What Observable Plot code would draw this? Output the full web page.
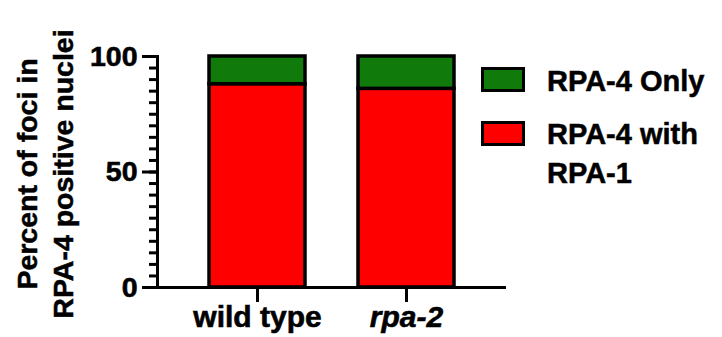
<!DOCTYPE html>
<html><head><meta charset="utf-8">
<script src="https://cdn.jsdelivr.net/npm/d3@7"></script>
<script src="https://cdn.jsdelivr.net/npm/@observablehq/plot@0.6"></script>
<style>
body{margin:0;background:#fff;}
#wrap{position:relative;width:722px;height:337px;font-family:"Liberation Sans",Arial,sans-serif;font-weight:bold;color:#000;}
#wrap svg text{stroke:#000;stroke-width:0.6px;paint-order:stroke;}
.ytitle{position:absolute;width:300px;height:70px;left:-106.5px;top:139px;transform:rotate(-90deg);transform-origin:50% 50%;text-align:center;font-size:28.5px;line-height:36px;white-space:nowrap;-webkit-text-stroke:0.5px #000;}
.sw{position:absolute;width:38px;height:19px;border:3px solid #000;}
.lt{position:absolute;font-size:29px;line-height:39px;white-space:nowrap;-webkit-text-stroke:0.5px #000;}
</style></head><body><div id="wrap"></div>
<script>
const categories = ["wild type", "rpa-2"];
const seriesNames = ["RPA-4 Only", "RPA-4 with RPA-1"];
const withRPA1 = [88, 86];
const only = [12, 14];
const yMajorTicks = [0, 50, 100];
const yMinorTicks = d3.range(0, 101, 5);
const seriesColors = ["#107a0b", "#fe0000"];
const yTitleLines = ["Percent of foci in", "RPA-4 positive nuclei"];

const data = categories.flatMap((c, i) => [
  {cat: c, series: seriesNames[1], value: withRPA1[i]},
  {cat: c, series: seriesNames[0], value: only[i]}
]);

const font = '"Liberation Sans", Arial, sans-serif';
const plot = Plot.plot({
  width: 722, height: 337,
  marginLeft: 157, marginRight: 216, marginTop: 56, marginBottom: 50,
  style: {fontFamily: font, fontWeight: "bold", fontSize: "28px", background: "white", color: "black", overflow: "visible"},
  x: {domain: categories, paddingInner: 0.353, paddingOuter: 0.34, label: null},
  y: {domain: [0, 100], label: null},
  color: {domain: seriesNames, range: seriesColors},
  marks: [
    Plot.barY(data, {x: "cat", y: "value", fill: "series", stroke: "black", strokeWidth: 3.5,
      order: [seriesNames[1], seriesNames[0]]}),
    Plot.axisY(yMinorTicks, {tickSize: 8, text: null, strokeWidth: 3, label: null}),
    Plot.axisY(yMajorTicks, {tickSize: 15, tickPadding: 5, strokeWidth: 3, fontSize: 28.5, label: null}),
    Plot.axisX([categories[0]], {tickSize: 15, tickPadding: 3, strokeWidth: 3, fontSize: 30, label: null}),
    Plot.axisX([categories[1]], {tickSize: 15, tickPadding: 3, strokeWidth: 3, fontSize: 30, fontStyle: "italic", label: null}),
    Plot.ruleY([0], {strokeWidth: 3}),
    Plot.frame({anchor: "left", strokeWidth: 3})
  ]
});
const wrap = document.getElementById("wrap");
wrap.appendChild(plot);

const t = document.createElement("div");
t.className = "ytitle";
t.innerHTML = yTitleLines.join("<br>");
wrap.appendChild(t);

// legend
const legendRows = [
  {color: seriesColors[0], swTop: 67, textTop: 61.5, lines: [seriesNames[0]]},
  {color: seriesColors[1], swTop: 120.5, textTop: 115, lines: ["RPA-4 with", "RPA-1"]}
];
legendRows.forEach(r => {
  const s = document.createElement("div");
  s.className = "sw";
  s.style.left = "481px"; s.style.top = r.swTop + "px"; s.style.background = r.color;
  wrap.appendChild(s);
  const l = document.createElement("div");
  l.className = "lt";
  l.style.left = "547px"; l.style.top = r.textTop + "px";
  l.innerHTML = r.lines.join("<br>");
  wrap.appendChild(l);
});
</script></body></html>
